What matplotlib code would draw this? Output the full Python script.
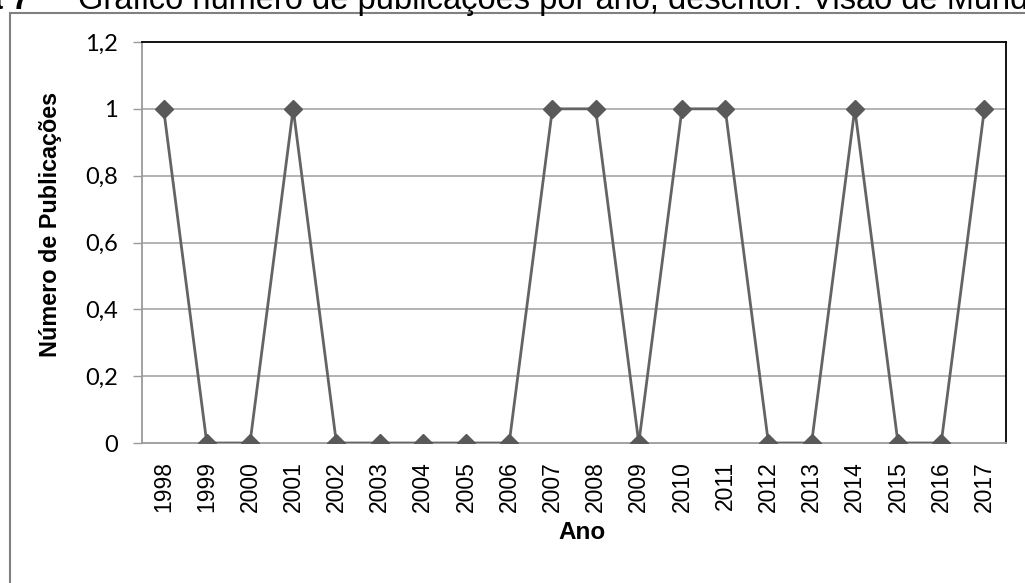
import numpy as np
import matplotlib.pyplot as plt
from matplotlib.patches import Rectangle

anos = ['1998', '1999', '2000', '2001', '2002', '2003', '2004', '2005', '2006', '2007',
        '2008', '2009', '2010', '2011', '2012', '2013', '2014', '2015', '2016', '2017']
publicacoes = [1, 0, 0, 1, 0, 0, 0, 0, 0, 1, 1, 0, 1, 1, 0, 0, 1, 0, 0, 1]
y_ticks = [0, 0.2, 0.4, 0.6, 0.8, 1.0, 1.2]
y_labels = ['0', '0,2', '0,4', '0,6', '0,8', '1', '1,2']

W, H = 1025, 583
fig = plt.figure(figsize=(W / 100, H / 100), dpi=100)

# caixa externa do gráfico (só o canto superior esquerdo aparece)
top = 1 - 13 / H
fig.add_artist(Rectangle((10 / W, -0.2), 1.2, top + 0.2, transform=fig.transFigure,
                         fill=False, edgecolor='#808080', linewidth=1.5))

# legenda da figura (cortada no topo)
fig.text(30 / W, 1 - 9 / H, 'Figura 7', fontsize=23.5, fontweight='bold',
         family='Liberation Sans', ha='right', va='baseline')
fig.text(78 / W, 1 - 9 / H, 'Gráfico número de publicações por ano, descritor: Visão de Mundo',
         fontsize=23.5, family='Liberation Sans', ha='left', va='baseline')

ax = fig.add_axes([142 / W, 1 - 443 / H, (1006 - 142) / W, (443 - 42) / H])
x = np.arange(len(anos))
ax.plot(x, publicacoes, color='#646464', linewidth=2.0, marker='D', markersize=9.5,
        markerfacecolor='#595959', markeredgecolor='#595959', zorder=3)

ax.set_xlim(-0.5, len(anos) - 0.5)
ax.set_ylim(0, 1.2)
ax.set_yticks(y_ticks)
ax.set_yticklabels(y_labels, family='Lato', fontsize=17)
ax.set_xticks(x)
ax.set_xticklabels(anos, rotation=90, family='Liberation Sans', fontsize=16.5)
ax.tick_params(axis='x', length=0, pad=13)
ax.tick_params(axis='y', length=6.5, color='#9a9a9a', width=1, pad=11)

for v in y_ticks[1:-1]:
    ax.axhline(v, color='#a6a6a6', linewidth=1.2, zorder=1)

for side in ('left', 'bottom'):
    ax.spines[side].set_color('#9a9a9a')
    ax.spines[side].set_linewidth(1.3)
for side in ('top', 'right'):
    ax.spines[side].set_color('#000000')
    ax.spines[side].set_linewidth(1.3)

ax.set_ylabel('Número de Publicações', family='Liberation Sans', fontweight='bold', fontsize=16.8)
ax.yaxis.set_label_coords(-0.093, 0.545)
ax.set_xlabel('Ano', family='Liberation Sans', fontweight='bold', fontsize=17.5)
ax.xaxis.set_label_coords(0.509, -0.222)
ax.xaxis.label.set_va('center')

fig.savefig('out.png', dpi=100)
